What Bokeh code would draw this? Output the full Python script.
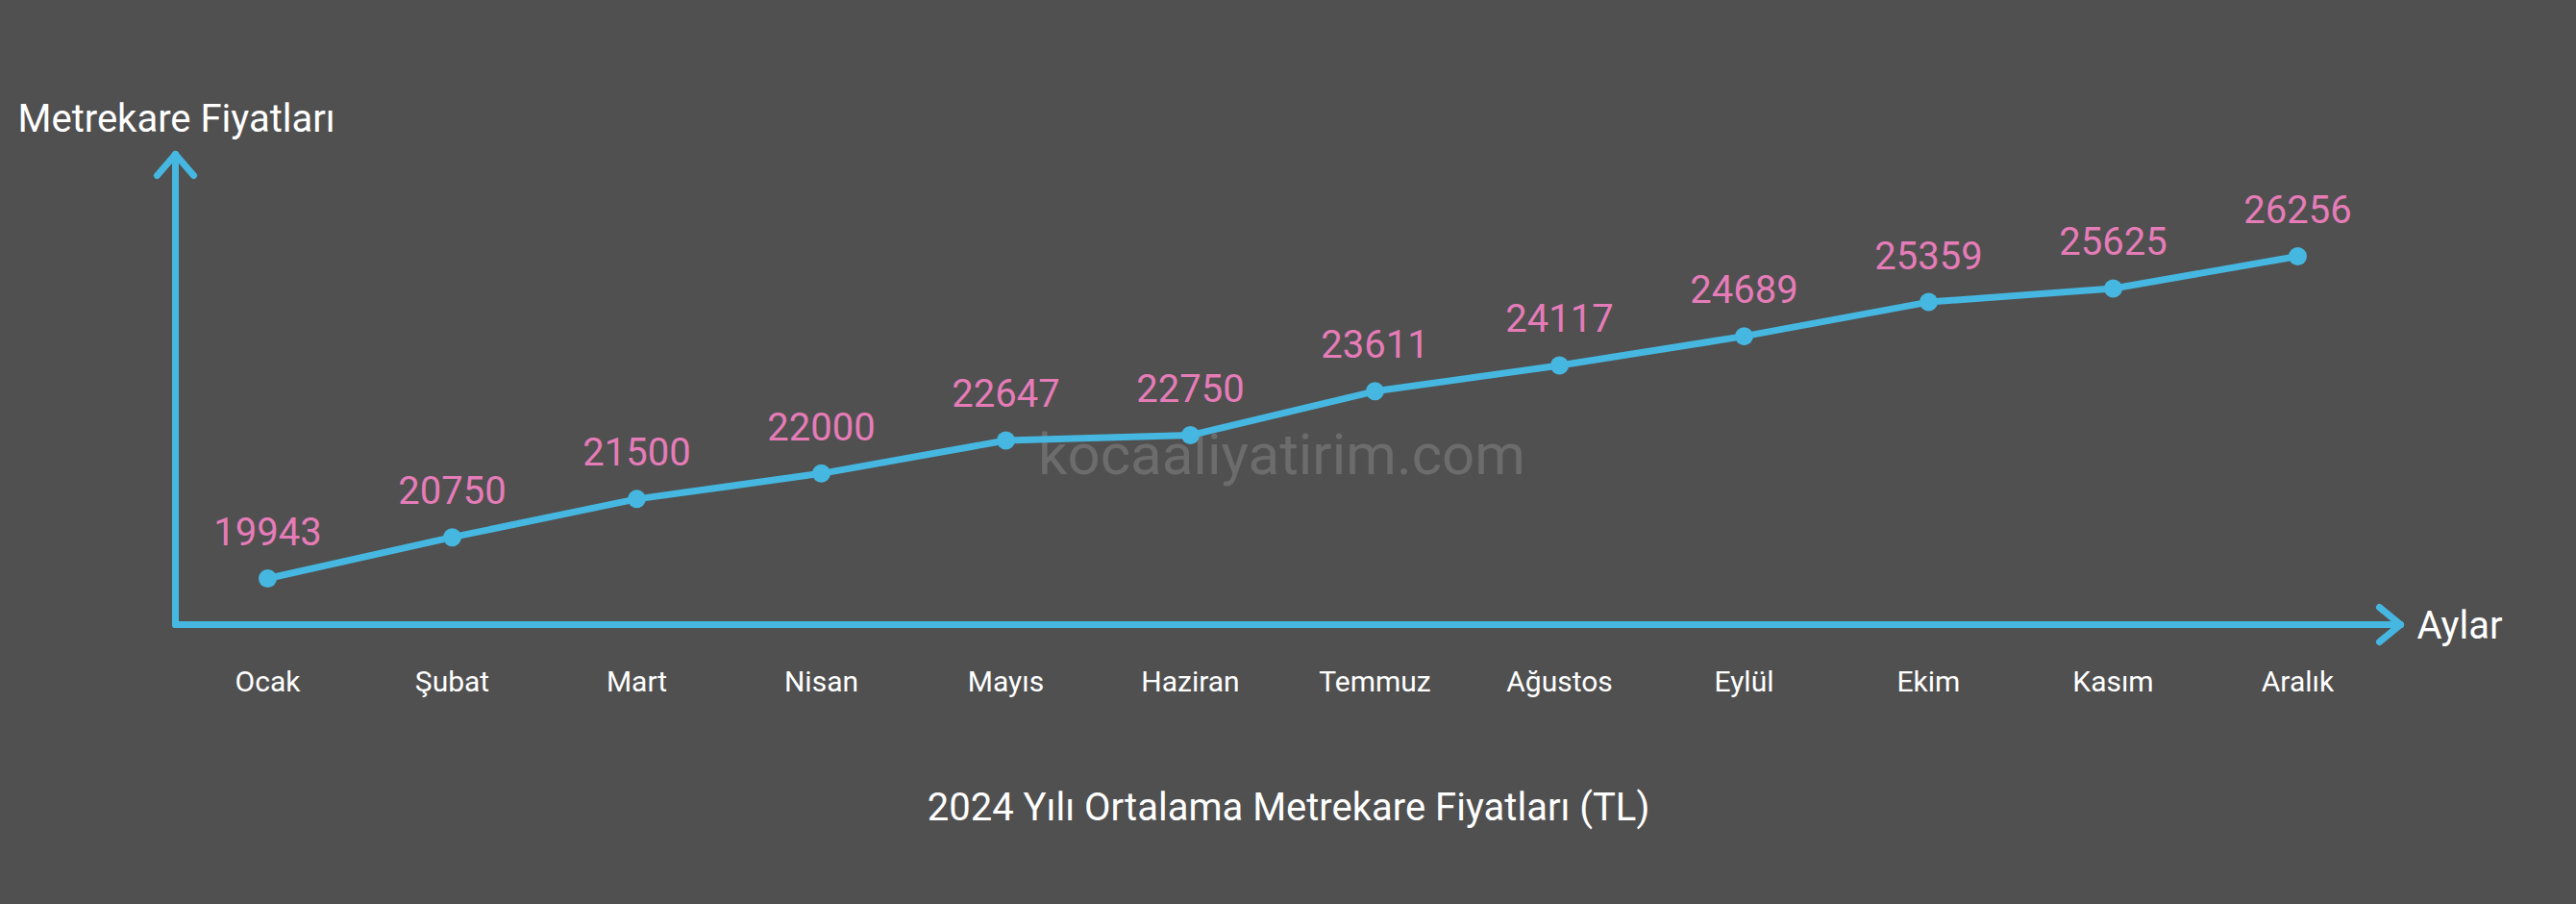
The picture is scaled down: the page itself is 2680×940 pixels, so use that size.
from bokeh.plotting import figure
from bokeh.models import Range1d, FixedTicker, ColumnDataSource
from bokeh.embed import file_html
from bokeh.resources import INLINE
from bokeh.core.properties import value

# ---- data ----
months = ["Ocak", "Şubat", "Mart", "Nisan", "Mayıs", "Haziran",
          "Temmuz", "Ağustos", "Eylül", "Ekim", "Kasım", "Aralık"]
prices = [19943, 20750, 21500, 22000, 22647, 22750,
          23611, 24117, 24689, 25359, 25625, 26256]
chart_title = "2024 Yılı Ortalama Metrekare Fiyatları (TL)"
y_title = "Metrekare Fiyatları"
x_title = "Aylar"
watermark = "kocaaliyatirim.com"

# ---- style / layout ----
BG = "#505050"
BLUE = "#46b7e0"
PINK = "#e57cb8"
WHITE = "#ffffff"
WM = "#6c6c6c"
FONT = "Roboto"

W, H = 2680, 940
FRAME_H = 680
PX_FIRST, PX_STEP = 278.0, 192.0          # screen x of first month, spacing
PY_FIRST, PX_PER_UNIT = 601.0, 0.05307    # screen y of first value, px per TL


def dx(px):
    return (px - PX_FIRST) / PX_STEP


def dy(py):
    return prices[0] + (PY_FIRST - py) / PX_PER_UNIT


p = figure(width=W, height=H, output_backend="svg", toolbar_location=None,
           x_range=Range1d(dx(0), dx(W)), y_range=Range1d(dy(FRAME_H), dy(0)),
           y_axis_location=None, x_axis_location="below",
           min_border=0, min_border_bottom=H - FRAME_H,
           background_fill_color=BG, border_fill_color=BG,
           outline_line_color=None)
p.styles = {"background-color": BG}
p.grid.visible = False

idx = list(range(len(months)))
src = ColumnDataSource(dict(i=idx, price=prices, lab=[str(v) for v in prices]))

# watermark
p.text(x=[dx(1333)], y=[dy(472)], text=[watermark], text_font=value(FONT),
       text_font_size="60px", text_color=WM, text_align="center",
       text_baseline="alphabetic")

# axis arrows (origin / tips in data units)
ax_x0, ax_y0 = dx(182), dy(649)
x_tip, y_tip = dx(2497), dy(160)
hx_len, hy_half = 22 / PX_STEP, 18 / PX_PER_UNIT
vy_len, vx_half = 22 / PX_PER_UNIT, 19 / PX_STEP
p.segment(x0=[ax_x0, ax_x0, x_tip, x_tip, ax_x0, ax_x0],
          y0=[ax_y0, ax_y0, ax_y0, ax_y0, y_tip, y_tip],
          x1=[x_tip, ax_x0, x_tip - hx_len, x_tip - hx_len, ax_x0 - vx_half, ax_x0 + vx_half],
          y1=[ax_y0, y_tip, ax_y0 + hy_half, ax_y0 - hy_half, y_tip - vy_len, y_tip - vy_len],
          line_color=BLUE, line_width=7, line_cap="round")

# series
p.line(x="i", y="price", source=src, line_color=BLUE, line_width=7,
       line_join="round", line_cap="round")
p.scatter(x="i", y="price", source=src, size=19, fill_color=BLUE, line_color=None)
p.text(x="i", y="price", text="lab", source=src, y_offset=-49,
       text_font=value(FONT), text_font_size="40px", text_color=PINK,
       text_align="center", text_baseline="alphabetic")

# axis titles
p.text(x=[dx(18)], y=[dy(123)], text=[y_title], text_font=value(FONT),
       text_font_size="40px", text_color=WHITE, text_align="left",
       text_baseline="alphabetic")
p.text(x=[dx(2514)], y=[dy(650)], text=[x_title], text_font=value(FONT),
       text_font_size="40px", text_color=WHITE, text_align="left",
       text_baseline="alphabetic")

# month labels via x axis, chart title as axis label
xa = p.xaxis[0]
xa.ticker = FixedTicker(ticks=idx)
xa.major_label_overrides = {i: m for i, m in zip(idx, months)}
xa.axis_line_color = None
xa.major_tick_line_color = None
xa.minor_tick_line_color = None
xa.major_tick_out = 0
xa.major_tick_in = 0
xa.major_label_standoff = 10
xa.major_label_text_font = FONT
xa.major_label_text_font_size = "30px"
xa.major_label_text_color = WHITE
xa.axis_label = chart_title
xa.axis_label_text_font = FONT
xa.axis_label_text_font_size = "40px"
xa.axis_label_text_font_style = "normal"
xa.axis_label_text_color = WHITE
xa.axis_label_standoff = 87

open("out.html", "w").write(file_html(p, INLINE))
